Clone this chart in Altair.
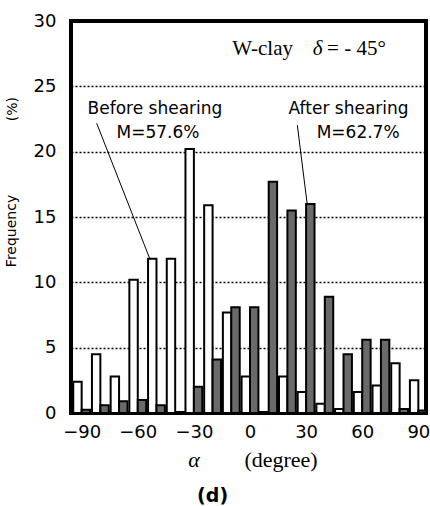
import altair as alt
import pandas as pd

# ---- data ----
angles = [-90, -80, -70, -60, -50, -40, -30, -20, -10, 0, 10, 20, 30, 40, 50, 60, 70, 80, 90]
before = [2.4, 4.5, 2.8, 10.2, 11.8, 11.8, 20.2, 15.9, 7.7, 2.8, 0.0, 2.8, 1.6, 0.7, 0.3, 1.6, 2.1, 3.8, 2.5]
after = [0.25, 0.6, 0.9, 1.0, 0.6, 0.0, 2.0, 4.1, 8.1, 8.1, 17.7, 15.5, 16.0, 8.9, 4.5, 5.6, 5.6, 0.3, 0.2]
x_ticks = [-90, -60, -30, 0, 30, 60, 90]
y_ticks = [0, 5, 10, 15, 20, 25, 30]

BAR_W = 4.5  # half bin width in degrees

df = pd.DataFrame({"angle": angles, "before": before, "after": after})

xs = alt.Scale(domain=[-95.7, 94.1], nice=False, zero=False)
ys = alt.Scale(domain=[0, 30], nice=False)

base = alt.Chart(df)

before_bars = base.transform_calculate(
    x0=f"datum.angle - {BAR_W}", x1="datum.angle"
).mark_bar(fill="white", stroke="black", strokeWidth=2).encode(
    x=alt.X("x0:Q", scale=xs,
            axis=alt.Axis(values=x_ticks, title=None, ticks=False, domain=False,
                          labelPadding=10, labelFontSize=18, labelFont="DejaVu Sans",
                          labelColor="black", grid=False)),
    x2="x1:Q",
    y=alt.Y("before:Q", scale=ys,
            axis=alt.Axis(values=y_ticks, title=None, ticks=False, domain=False,
                          labelPadding=15, labelFontSize=18, labelFont="DejaVu Sans",
                          labelColor="black", grid=True, gridColor="black",
                          gridDash=[2, 2], gridWidth=1.6)),
    y2=alt.datum(0),
)

after_bars = base.transform_calculate(
    x0="datum.angle", x1=f"datum.angle + {BAR_W}"
).mark_bar(fill="#6a6a6a", stroke="black", strokeWidth=2).encode(
    x=alt.X("x0:Q", scale=xs),
    x2="x1:Q",
    y=alt.Y("after:Q", scale=ys),
    y2=alt.datum(0),
)

# ---- annotations (in data coordinates) ----
sans_txt = pd.DataFrame({
    "x": [-50.8, -49.2, 52.7, 57.8],
    "y": [23.3, 21.4, 23.3, 21.4],
    "t": ["Before shearing", "M=57.6%", "After shearing", "M=62.7%"],
})
sans_layer = alt.Chart(sans_txt).mark_text(
    font="DejaVu Sans", fontSize=17, color="black", baseline="middle", align="center"
).encode(x=alt.X("x:Q", scale=xs), y=alt.Y("y:Q", scale=ys), text="t:N")

leaders = pd.DataFrame({
    "x": [-81.96, 25.3], "y": [22.17, 22.03],
    "x2": [-53.45, 30.66], "y2": [11.76, 15.9],
})
leader_layer = alt.Chart(leaders).mark_rule(color="black", strokeWidth=1).encode(
    x=alt.X("x:Q", scale=xs), y=alt.Y("y:Q", scale=ys), x2="x2:Q", y2="y2:Q"
)

title_l = alt.Chart(pd.DataFrame({"x": [23.0], "y": [27.85], "t": ["W-clay"]})).mark_text(
    font="Liberation Serif", fontSize=21, align="right", baseline="middle", color="black"
).encode(x=alt.X("x:Q", scale=xs), y=alt.Y("y:Q", scale=ys), text="t:N")
title_d = alt.Chart(pd.DataFrame({"x": [36.1], "y": [27.85], "t": ["δ"]})).mark_text(
    font="Liberation Serif", fontSize=21, fontStyle="italic", align="center",
    baseline="middle", color="black"
).encode(x=alt.X("x:Q", scale=xs), y=alt.Y("y:Q", scale=ys), text="t:N")
title_r = alt.Chart(pd.DataFrame({"x": [41.2], "y": [27.85], "t": ["= - 45°"]})).mark_text(
    font="Liberation Serif", fontSize=21, align="left", baseline="middle", color="black"
).encode(x=alt.X("x:Q", scale=xs), y=alt.Y("y:Q", scale=ys), text="t:N")

alpha_l = alt.Chart(pd.DataFrame({"x": [-29.9], "y": [-3.6], "t": ["α"]})).mark_text(
    font="Liberation Serif", fontSize=22, fontStyle="italic", align="center",
    baseline="middle", color="black"
).encode(x=alt.X("x:Q", scale=xs), y=alt.Y("y:Q", scale=ys), text="t:N")
deg_l = alt.Chart(pd.DataFrame({"x": [16.6], "y": [-3.6], "t": ["(degree)"]})).mark_text(
    font="Liberation Serif", fontSize=22, align="center", baseline="middle", color="black"
).encode(x=alt.X("x:Q", scale=xs), y=alt.Y("y:Q", scale=ys), text="t:N")
d_l = alt.Chart(pd.DataFrame({"x": [-20.0], "y": [-6.35], "t": ["(d)"]})).mark_text(
    font="DejaVu Sans", fontSize=19, fontWeight="bold", align="center",
    baseline="middle", color="black"
).encode(x=alt.X("x:Q", scale=xs), y=alt.Y("y:Q", scale=ys), text="t:N")

ylab = alt.Chart(pd.DataFrame({"x": [-127.25, -126.5], "y": [13.93, 23.26],
                               "t": ["Frequency", "(%)"]})).mark_text(
    font="DejaVu Sans", fontSize=14, angle=270, align="center", baseline="middle",
    color="black"
).encode(x=alt.X("x:Q", scale=xs), y=alt.Y("y:Q", scale=ys), text="t:N")

chart = alt.layer(
    before_bars, after_bars, leader_layer, sans_layer, title_l, title_d, title_r,
    alpha_l, deg_l, d_l, ylab
).properties(
    width=355, height=392,
    autosize=alt.AutoSizeParams(type="none"),
    padding={"left": 71, "top": 21, "right": 4, "bottom": 93},
    background="white",
).configure_view(stroke="black", strokeWidth=4)

chart.save("out.html", embed_options={"renderer": "svg", "actions": False})
